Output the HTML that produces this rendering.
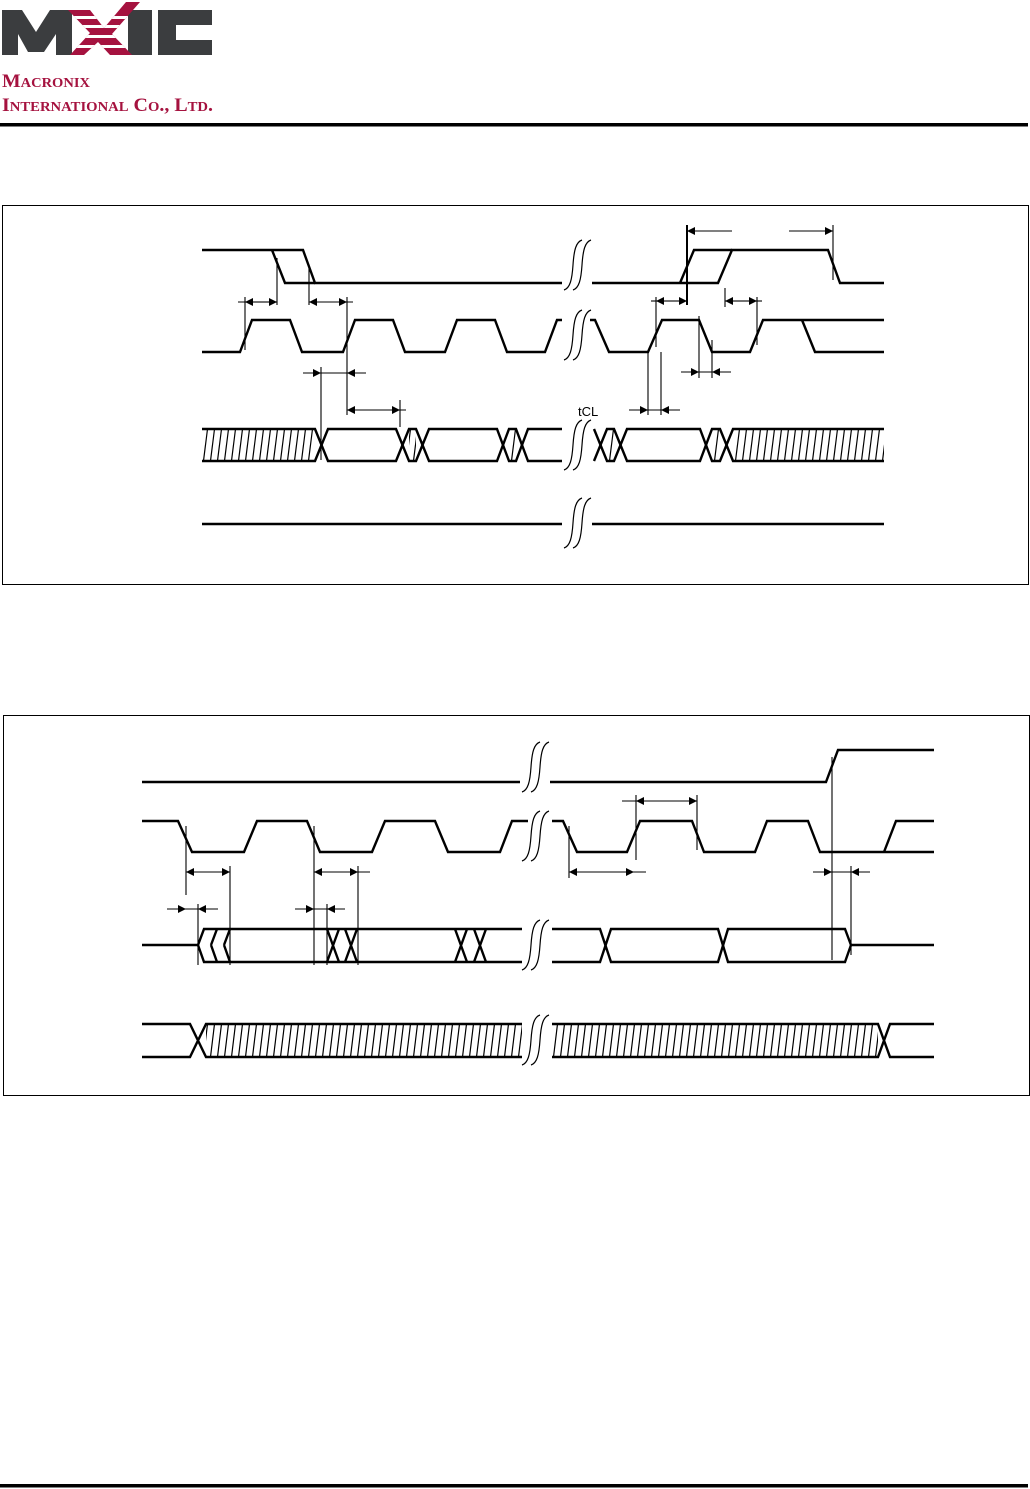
<!DOCTYPE html>
<html><head><meta charset="utf-8"><style>
html,body{margin:0;padding:0;background:#fff;}
body{width:1030px;height:1489px;position:relative;overflow:hidden;font-family:"Liberation Sans",sans-serif;}
</style></head><body>
<svg width="1030" height="1489" viewBox="0 0 1030 1489" xmlns="http://www.w3.org/2000/svg" style="position:absolute;left:0;top:0">
<defs>
<pattern id="h1" patternUnits="userSpaceOnUse" width="7" height="32" x="0" y="429">
<line x1="0.5" y1="32" x2="4.5" y2="0" stroke="#000" stroke-width="1.2"/>
</pattern>
<pattern id="h2" patternUnits="userSpaceOnUse" width="7" height="33" x="0" y="1024">
<line x1="0.5" y1="33" x2="4.5" y2="0" stroke="#000" stroke-width="1.2"/>
</pattern>
<clipPath id="xc"><polygon points="68,10 90,10 104,28 126,2 140,2 112,34 132,55 110,55 98,42 84,55 70,55 90,33"/></clipPath>
<symbol id="brk" overflow="visible">
<path d="M0,50 C6,48 8,40 9,25 C10,10 12,2 18,0" fill="none" stroke="#000" stroke-width="1.2"/>
<path d="M9,50 C15,48 17,40 18,25 C19,10 21,2 27,0" fill="none" stroke="#000" stroke-width="1.2"/>
</symbol>
<marker id="ar" viewBox="0 0 10 10" refX="10" refY="5" markerWidth="14" markerHeight="8" markerUnits="userSpaceOnUse" orient="auto"><path d="M0,0 L10,5 L0,10 z" fill="#000"/></marker>
</defs>

<!-- Logo -->
<g fill="#3b3d3f">
<polygon points="2,10 22,10 36,32 50,10 72,10 72,55 56,55 56,34 44,52 28,52 18,34 18,55 2,55"/>
<rect x="128" y="10" width="24" height="45"/>
<polygon points="158,10 212,10 212,25 176,25 176,40 212,40 212,55 158,55"/>
</g>
<polygon points="68,10 90,10 104,28 126,2 140,2 112,34 132,55 110,55 98,42 84,55 70,55 90,33" fill="#a5123f"/>
<g fill="#fff" clip-path="url(#xc)">
<rect x="66" y="16" width="80" height="3"/><rect x="66" y="25" width="80" height="3"/><rect x="66" y="35" width="80" height="3"/><rect x="66" y="45" width="80" height="3"/>
</g>
<text x="2" y="87" font-family="Liberation Serif,serif" font-weight="bold" fill="#a5123f" font-size="19" textLength="88" lengthAdjust="spacingAndGlyphs">M<tspan font-size="14">ACRONIX</tspan></text>
<text x="2" y="111" font-family="Liberation Serif,serif" font-weight="bold" fill="#a5123f" font-size="19" textLength="211" lengthAdjust="spacingAndGlyphs">I<tspan font-size="14">NTERNATIONAL</tspan> C<tspan font-size="14">O</tspan>., L<tspan font-size="14">TD</tspan>.</text>
<rect x="0" y="123" width="1028" height="3.5" fill="#000"/>
<rect x="0" y="1484" width="1028" height="3.5" fill="#000"/>

<!-- Boxes -->
<rect x="2.5" y="205.5" width="1026" height="379" fill="none" stroke="#000" stroke-width="1"/>
<rect x="3.5" y="715.5" width="1026" height="380" fill="none" stroke="#000" stroke-width="1"/>

<g fill="none" stroke="#000" stroke-width="2.4" stroke-linejoin="miter">
<!-- Diagram 1 row1 -->
<path d="M202,250 H303 L315,283 H562"/>
<path d="M272,250 L285,283 H315"/>
<path d="M592,283 H718 L732,250 H828 L840,283 H884"/>
<path d="M680,283 L694,250 H732"/>
<!-- row2 clock -->
<path d="M202,352 H240 L252,320 H290 L302,352 H343 L355,320 H393 L405,352 H445 L457,320 H495 L507,352 H545 L557,320 H562"/>
<path d="M590,320 H595 L609,352 H648 L662,320 H699 L712,352 H750 L763,320 H884"/>
<path d="M802,320 L815,352 H884"/>
<!-- row3 data -->
<rect x="202" y="429" width="113" height="32" fill="url(#h1)" stroke="none"/>
<rect x="409" y="429" width="7" height="32" fill="url(#h1)" stroke="none"/>
<rect x="509" y="429" width="7" height="32" fill="url(#h1)" stroke="none"/>
<rect x="607" y="429" width="7" height="32" fill="url(#h1)" stroke="none"/>
<rect x="712" y="429" width="8" height="32" fill="url(#h1)" stroke="none"/>
<rect x="733" y="429" width="151" height="32" fill="url(#h1)" stroke="none"/>
<path d="M202,429 H315 L328,461 H396 L409,429 H416 L429,461 H497 L509,429 H516 L528,461 H562"/>
<path d="M202,461 H315 L328,429 H396 L409,461 H416 L429,429 H497 L509,461 H516 L528,429 H562"/>
<path d="M594,429 L607,461 H614 L627,429 H700 L712,461 H720 L733,429 H884"/>
<path d="M594,461 L607,429 H614 L627,461 H700 L712,429 H720 L733,461 H884"/>
<!-- row4 -->
<path d="M202,524 H562 M592,524 H884"/>

<!-- Diagram 2 -->
<path d="M142,782 H520 M550,782 H826 L838,750 H934"/>
<path d="M142,821 H178 L192,852 H244 L257,821 H307 L320,852 H372 L385,821 H435 L448,852 H500 L512,821 H528"/>
<path d="M552,821 H563 L577,852 H627 L640,821 H692 L704,852 H755 L767,821 H808 L820,852 H934"/>
<path d="M884,852 L896,821 H934"/>
<!-- data2 -->
<path d="M142,945 H198 L204,929 H522 M198,945 L204,962 H522"/>
<path d="M211,945 L217,929 M211,945 L217,962 M224,945 L230,929 M224,945 L230,962"/>
<path d="M327,929 L339,962 M327,962 L339,929 M345,929 L357,962 M345,962 L357,929"/>
<path d="M455,929 L467,962 M455,962 L467,929 M474,929 L486,962 M474,962 L486,929"/>
<path d="M552,929 H600 L611,962 H718 L728,929 H845 L851,945 H934"/>
<path d="M552,962 H600 L611,929 H718 L728,962 H845 L851,945"/>
<!-- row4 -->
<rect x="206" y="1024" width="316" height="33" fill="url(#h2)" stroke="none"/>
<rect x="552" y="1024" width="326" height="33" fill="url(#h2)" stroke="none"/>
<path d="M142,1024 H190 L206,1057 H522 M142,1057 H190 L206,1024 H522"/>
<path d="M552,1024 H878 L890,1057 H934 M552,1057 H878 L890,1024 H934"/>
</g>

<!-- breaks -->
<use href="#brk" x="564" y="240"/>
<use href="#brk" x="564" y="310"/>
<use href="#brk" x="564" y="420"/>
<use href="#brk" x="564" y="498"/>
<use href="#brk" x="522" y="742"/>
<use href="#brk" x="522" y="811"/>
<use href="#brk" x="522" y="920"/>
<use href="#brk" x="522" y="1015"/>

<!-- markers & arrows -->
<g stroke="#000" stroke-width="1.1" fill="none">
<path d="M277,258 V305 M309,268 V305 M245,297 V350 M347,297 V415 M321,367 V460 M400,400 V427"/>
<path d="M238,302 H245 M309,302 H353 M303,373 H366 M347,410 H406"/>
<line x1="261" y1="302" x2="245" y2="302" marker-end="url(#ar)"/>
<line x1="261" y1="302" x2="277" y2="302" marker-end="url(#ar)"/>
<line x1="328" y1="302" x2="309" y2="302" marker-end="url(#ar)"/>
<line x1="328" y1="302" x2="347" y2="302" marker-end="url(#ar)"/>
<line x1="303" y1="373" x2="321" y2="373" marker-end="url(#ar)"/>
<line x1="366" y1="373" x2="347" y2="373" marker-end="url(#ar)"/>
<line x1="373" y1="410" x2="347" y2="410" marker-end="url(#ar)"/>
<line x1="373" y1="410" x2="400" y2="410" marker-end="url(#ar)"/>

<path d="M687,225 V305" stroke-width="2"/>
<path d="M833,225 V280 M656,297 V347 M725,288 V307 M757,297 V345 M699,316 V378 M712,340 V378 M648,352 V415 M661,352 V415"/>
<line x1="732" y1="231" x2="687" y2="231" marker-end="url(#ar)"/>
<line x1="789" y1="231" x2="833" y2="231" marker-end="url(#ar)"/>
<path d="M651,301 H656"/>
<line x1="671" y1="301" x2="656" y2="301" marker-end="url(#ar)"/>
<line x1="671" y1="301" x2="687" y2="301" marker-end="url(#ar)"/>
<line x1="741" y1="301" x2="725" y2="301" marker-end="url(#ar)"/>
<line x1="741" y1="301" x2="757" y2="301" marker-end="url(#ar)"/>
<path d="M757,301 H762"/>
<line x1="681" y1="372" x2="699" y2="372" marker-end="url(#ar)"/>
<line x1="731" y1="372" x2="712" y2="372" marker-end="url(#ar)"/>
<path d="M699,372 H712 M648,410 H661"/>
<line x1="629" y1="410" x2="648" y2="410" marker-end="url(#ar)"/>
<line x1="680" y1="410" x2="661" y2="410" marker-end="url(#ar)"/>

<!-- diagram2 markers -->
<path d="M186,826 V895 M230,866 V965 M314,826 V965 M358,866 V965 M198,904 V965 M327,904 V965"/>
<line x1="208" y1="872" x2="186" y2="872" marker-end="url(#ar)"/>
<line x1="208" y1="872" x2="230" y2="872" marker-end="url(#ar)"/>
<line x1="336" y1="872" x2="314" y2="872" marker-end="url(#ar)"/>
<line x1="336" y1="872" x2="358" y2="872" marker-end="url(#ar)"/>
<path d="M358,872 H370 M186,909 H198 M314,909 H327"/>
<line x1="167" y1="909" x2="186" y2="909" marker-end="url(#ar)"/>
<line x1="218" y1="909" x2="198" y2="909" marker-end="url(#ar)"/>
<line x1="295" y1="909" x2="314" y2="909" marker-end="url(#ar)"/>
<line x1="345" y1="909" x2="327" y2="909" marker-end="url(#ar)"/>

<path d="M636,795 V860 M697,795 V850 M569,826 V878 M832,757 V960 M851,866 V955 M622,801 H636 M634,872 H646 M832,872 H851"/>
<line x1="666" y1="801" x2="636" y2="801" marker-end="url(#ar)"/>
<line x1="666" y1="801" x2="697" y2="801" marker-end="url(#ar)"/>
<line x1="601" y1="872" x2="569" y2="872" marker-end="url(#ar)"/>
<line x1="601" y1="872" x2="634" y2="872" marker-end="url(#ar)"/>
<line x1="813" y1="872" x2="832" y2="872" marker-end="url(#ar)"/>
<line x1="870" y1="872" x2="851" y2="872" marker-end="url(#ar)"/>
</g>
<text x="578" y="416" font-family="Liberation Sans,sans-serif" font-size="13" fill="#000">tCL</text>
</svg>
</body></html>
